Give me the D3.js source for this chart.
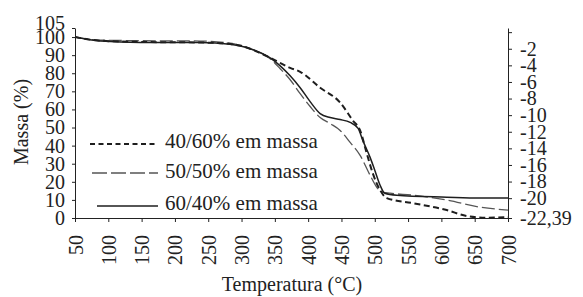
<!DOCTYPE html>
<html>
<head>
<meta charset="utf-8">
<script src="https://cdn.jsdelivr.net/npm/d3@7.9.0/dist/d3.min.js"></script>
<style>
  body { margin: 0; background: #fff; }
  svg { display: block; }
  svg text { font-family: "Liberation Serif", "Times New Roman", "DejaVu Serif", serif !important; fill: #222; }
  .axis path, .axis line { stroke: #222; stroke-width: 1; }
</style>
</head>
<body>
<svg id="chart" width="583" height="297"></svg>
<script>
// temperature (°C) and mass (%)
const temp4060 = [50, 88, 148, 238, 283, 298, 313, 343, 373, 388, 418, 448, 467, 478, 488, 497, 508, 518, 557, 608, 638, 668, 700];
const mass4060 = [100, 98, 97.3, 97.0, 96.2, 95.3, 93.5, 88.5, 83.0, 80.8, 72.0, 63.8, 53.9, 48.4, 35.7, 24.7, 15.4, 11.0, 8.2, 4.4, 1.1, 0.2, 0.4];

const temp5050 = [50, 88, 148, 238, 283, 298, 313, 343, 358, 373, 388, 403, 418, 433, 448, 463, 478, 493, 503, 512, 523, 557, 608, 658, 700];
const mass5050 = [100, 98.3, 98.0, 97.8, 96.6, 95.3, 93.5, 88.0, 82.5, 76.4, 68.7, 61.6, 55.5, 52.2, 48.4, 41.8, 34.6, 23.6, 17.0, 14.3, 13.7, 12.6, 9.9, 6.0, 4.4];

const temp6040 = [50, 88, 148, 238, 283, 298, 313, 343, 358, 373, 388, 403, 418, 433, 448, 463, 475, 482, 493, 500, 508, 515, 533, 608, 658, 700];
const mass6040 = [100, 97.8, 97.0, 97.0, 96.0, 95.0, 93.5, 88.5, 84.1, 78.6, 72.0, 64.3, 57.7, 55.5, 54.4, 52.8, 49.5, 42.9, 33.5, 26.4, 18.1, 13.7, 12.6, 11.5, 11.0, 11.0];

const seriesNames = ['40/60% em massa', '50/50% em massa', '60/40% em massa'];
const xTicks = [50, 100, 150, 200, 250, 300, 350, 400, 450, 500, 550, 600, 650, 700];
const yTicks = [0, 10, 20, 30, 40, 50, 60, 70, 80, 90, 100, 105];
const rightTicks = [0, -2, -4, -6, -8, -10, -12, -14, -16, -18, -20, -22.39];

const serif = '"Liberation Serif", "Times New Roman", "DejaVu Serif", serif';
const svg = d3.select('#chart').attr('font-family', serif);
const plotLeft = 75, plotRight = 508, plotTop = 28, plotBottom = 218;

const x = d3.scaleLinear().domain([50, 700]).range([plotLeft, plotRight]);
const y = d3.scaleLinear().domain([0, 105]).range([plotBottom, plotTop]);
const yRight = d3.scaleLinear().domain([-22.39, 0.5]).range([plotBottom, plotTop]);

function styleAxis(g) {
  g.attr('font-family', serif).attr('font-size', 20);
  g.selectAll('text').attr('fill', '#222');
}

// left axis
const yAxis = svg.append('g')
  .attr('class', 'axis')
  .attr('transform', `translate(${plotLeft},0)`)
  .call(d3.axisLeft(y).tickValues(yTicks).tickSize(3).tickSizeOuter(0).tickPadding(7))
  .call(styleAxis);
// the 105 label sits a bit higher than its tick in the original
yAxis.selectAll('.tick text')
  .filter((d) => d === 105)
  .attr('dy', '0.05em');

// right axis
svg.append('g')
  .attr('class', 'axis')
  .attr('transform', `translate(${plotRight},0)`)
  .call(
    d3.axisRight(yRight)
      .tickValues(rightTicks)
      .tickSize(4)
      .tickSizeOuter(0)
      .tickPadding(8)
      .tickFormat((d) => (d === 0 ? '' : String(d).replace('.', ','))),
  )
  .call(styleAxis);

// bottom axis
const xAxis = svg.append('g')
  .attr('class', 'axis')
  .attr('transform', `translate(0,${plotBottom})`)
  .call(d3.axisBottom(x).tickValues(xTicks).tickSize(4).tickSizeOuter(0))
  .call(styleAxis);
xAxis.selectAll('.tick text')
  .attr('transform', 'rotate(-90)')
  .attr('x', -17)
  .attr('y', 0)
  .attr('dy', '0.35em')
  .attr('text-anchor', 'end');

// curves
const styles = [
  { color: '#1e1e1e', width: 2, dash: '6,3.5', legendDash: '5,3.5' },
  { color: '#555', width: 1.3, dash: '13,4', legendDash: '15,4' },
  { color: '#1e1e1e', width: 1.5, dash: null, legendDash: null },
];
const series = [
  { t: temp4060, m: mass4060 },
  { t: temp5050, m: mass5050 },
  { t: temp6040, m: mass6040 },
];

const line = d3.line()
  .x((d) => x(d[0]))
  .y((d) => y(d[1]))
  .curve(d3.curveMonotoneX);

// long dash first, then solid, short dash on top
[1, 2, 0].forEach((i) => {
  const s = series[i];
  const pts = s.t.map((t, j) => [t, s.m[j]]);
  svg.append('path')
    .attr('d', line(pts))
    .attr('fill', 'none')
    .attr('stroke', styles[i].color)
    .attr('stroke-width', styles[i].width)
    .attr('stroke-dasharray', styles[i].dash);
});

// legend
const legendRows = [
  { y: 144, x0: 90, base: 148 },
  { y: 173, x0: 92, base: 178 },
  { y: 206, x0: 97, base: 210 },
];
legendRows.forEach((row, i) => {
  svg.append('line')
    .attr('x1', row.x0)
    .attr('x2', 158)
    .attr('y1', row.y)
    .attr('y2', row.y)
    .attr('stroke', styles[i].color)
    .attr('stroke-width', styles[i].width)
    .attr('stroke-dasharray', styles[i].legendDash);
  svg.append('text')
    .attr('x', 165)
    .attr('y', row.base)
    .attr('font-size', 21)
    .attr('fill', '#222')
    .text(seriesNames[i]);
});

// axis titles
svg.append('text')
  .attr('transform', 'translate(28,122) rotate(-90)')
  .attr('text-anchor', 'middle')
  .attr('font-size', 20)
  .attr('fill', '#222')
  .text('Massa (%)');

svg.append('text')
  .attr('x', 292)
  .attr('y', 291)
  .attr('text-anchor', 'middle')
  .attr('font-size', 20)
  .attr('fill', '#222')
  .text('Temperatura (°C)');
</script>
</body>
</html>
